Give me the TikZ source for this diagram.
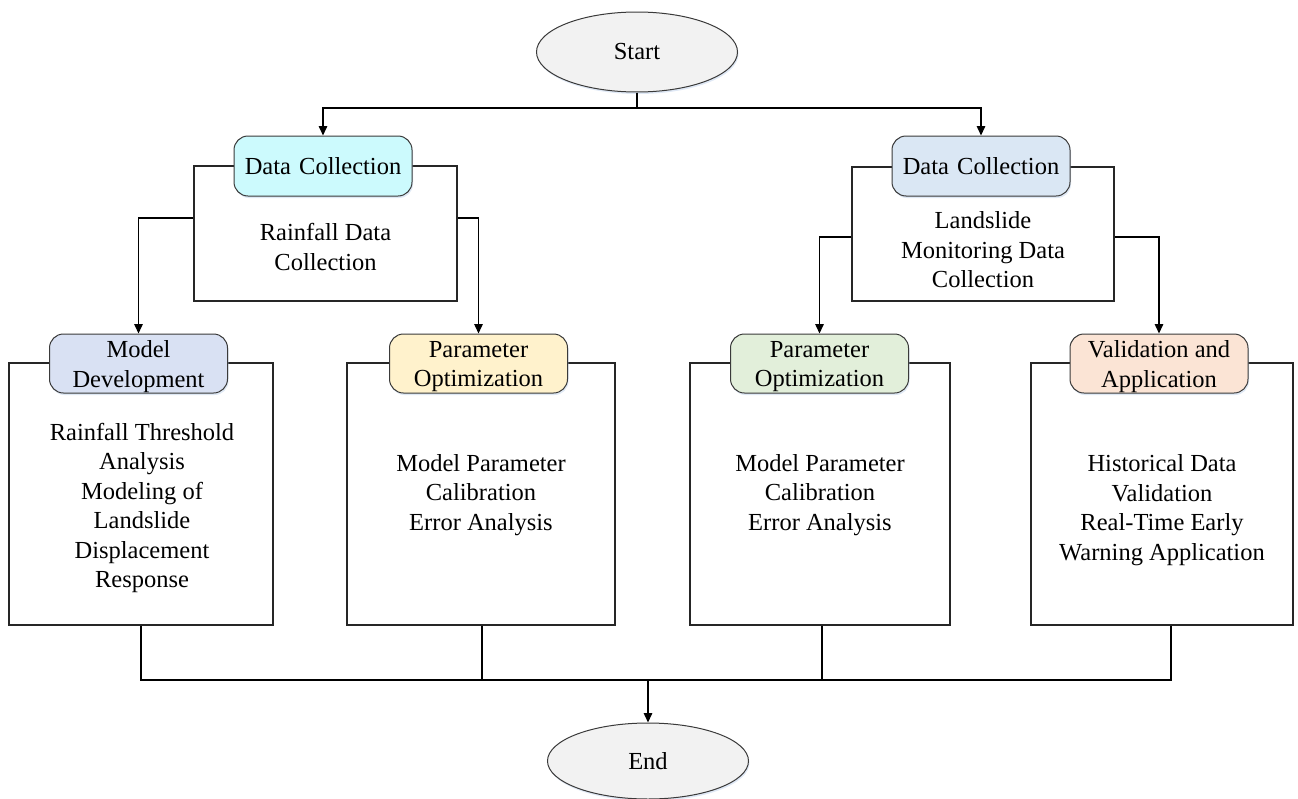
\documentclass[tikz,border=0pt]{standalone}
\usepackage{fontspec}
\setmainfont{Liberation Serif}
\usetikzlibrary{shapes.geometric,arrows.meta,shadows}

\definecolor{capfill}{HTML}{F2F2F2}
\definecolor{hdcyan}{HTML}{CCFAFD}
\definecolor{hdblue}{HTML}{DAE7F4}
\definecolor{hdlav}{HTML}{D9E1F3}
\definecolor{hdyel}{HTML}{FFF2CC}
\definecolor{hdgrn}{HTML}{E2EFDA}
\definecolor{hdpch}{HTML}{FBE4D5}
\definecolor{edge}{HTML}{3A3A3A}
\definecolor{glow}{HTML}{B8CCE8}

\begin{document}
\begin{tikzpicture}[x=1pt,y=-1pt,
  font=\fontsize{24.5}{29.5}\selectfont,
  softshade/.style={drop shadow={shadow xshift=1pt,shadow yshift=-2pt,fill=glow,opacity=0.45}},
  terminal/.style={ellipse,draw=edge,line width=1pt,fill=capfill,
    minimum width=201pt,minimum height=80pt,inner sep=0pt,softshade},
  panel/.style={draw=black!85,line width=1.5pt,fill=white,inner sep=0pt},
  header/.style={rounded corners=14pt,draw=edge,line width=1pt,
    minimum width=178pt,minimum height=60pt,inner sep=0pt,
    align=center,text width=176pt,softshade},
  tall/.style={minimum height=59pt},
  headtext/.style={align=center,inner sep=0pt,yshift=-3pt},
  body/.style={align=center,inner sep=0pt},
  link/.style={line width=1.5pt},
  arr/.style={link,-{Triangle[length=9.5pt,width=8.5pt]}}]

\useasboundingbox (0,0) rectangle (1298,798);

% terminals
\node[terminal] (start) at (637,52) {Start};
\node[terminal,minimum height=76pt] (finish) at (648,761) {End};

% upper panels
\node[panel,minimum width=263pt,minimum height=135pt] (tl) at (325.5,233.5) {};
\node[panel,minimum width=262pt,minimum height=134pt] (tr) at (983,234) {};

% lower panels
\node[panel,minimum width=264pt,minimum height=262pt] (p1) at (141,494) {};
\node[panel,minimum width=268pt,minimum height=262pt] (p2) at (481,494) {};
\node[panel,minimum width=260pt,minimum height=262pt] (p3) at (820,494) {};
\node[panel,minimum width=262pt,minimum height=262pt] (p4) at (1162,494) {};

% headers
\node[header,fill=hdcyan] (h1) at (323,166) {Data Collection};
\node[header,fill=hdblue] (h2) at (981,166) {Data Collection};
\node[header,tall,fill=hdlav,label={[headtext]center:{Model\\Development}}] (md) at (138.5,363.5) {};
\node[header,tall,fill=hdyel,label={[headtext]center:{Parameter\\Optimization}}] (po1) at (478.5,363.5) {};
\node[header,tall,fill=hdgrn,label={[headtext]center:{Parameter\\Optimization}}] (po2) at (819.5,363.5) {};
\node[header,tall,fill=hdpch,label={[headtext]center:{Validation and\\Application}}] (va) at (1159,363.5) {};

% panel contents
\node[body] (t1) at (325.5,247) {Rainfall Data\\Collection};
\node[body] (t2) at (983,250) {Landslide\\Monitoring Data\\Collection};
\node[body] (t3) at (142,508) {Rainfall Threshold\\Analysis\\Modeling of\\Landslide\\Displacement\\Response};
\node[body] (t4) at (481,495) {Model Parameter\\Calibration\\Error Analysis};
\node[body] (t5) at (820,495) {Model Parameter\\Calibration\\Error Analysis};
\node[body] (t6) at (1162,510) {Historical Data\\Validation\\Real-Time Early\\Warning Application};

% branching from the start
\coordinate (split) at (637,108);
\draw[link] (start.south) -- (split);
\draw[arr] (split) -| (h1.north);
\draw[arr] (split) -| (h2.north);

% from the data panels to the lower stages
\draw[arr] ([yshift=15.5pt]tl.west) -| (md.north);
\draw[arr] ([yshift=15.5pt]tl.east) -| (po1.north);
\draw[arr] ([yshift=-3pt]tr.west) -| (po2.north);
\draw[arr] ([yshift=-3pt]tr.east) -| (va.north);

% merging into the end
\coordinate (join) at (648,680);
\draw[link] (p1.south) |- (join);
\draw[link] ([xshift=1pt]p2.south) |- (join);
\draw[link] ([xshift=2pt]p3.south) |- (join);
\draw[link] ([xshift=9pt]p4.south) |- (join);
\draw[arr] (join) -- (finish.north);
\end{tikzpicture}
\end{document}
